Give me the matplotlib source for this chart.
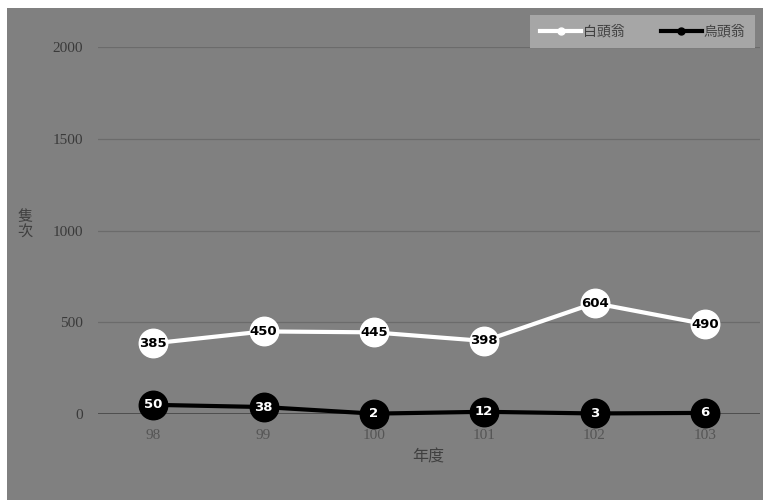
import matplotlib
matplotlib.use("Agg")
import matplotlib.pyplot as plt
from matplotlib.lines import Line2D

plt.rcParams['font.family'] = ['Noto Sans CJK TC', 'DejaVu Sans']

years = ["98", "99", "100", "101", "102", "103"]
white_vals = [385, 450, 445, 398, 604, 490]
black_vals = [50, 38, 2, 12, 3, 6]
yticks = [0, 500, 1000, 1500, 2000]

W, H = 763, 500
fig = plt.figure(figsize=(W/100, H/100), dpi=100, facecolor="white")

# gray chart panel behind everything
bg = fig.add_axes([7/W, 0, 1 - 7/W, 1 - 8/H], zorder=-1)
bg.set_facecolor("#808080")
bg.set_xticks([])
bg.set_yticks([])
for s in bg.spines.values():
    s.set_visible(False)

ax = fig.add_axes([98/W, 1 - 414/H, (760 - 98)/W, (414 - 47)/H])
ax.set_facecolor("none")
x = list(range(len(years)))
ax.set_xlim(-0.5, len(years) - 0.5)
ax.set_ylim(0, 2000)

for v in yticks[1:]:
    ax.axhline(v, color="#6b6b6b", lw=0.9, zorder=1)
ax.axhline(0, color="#404040", lw=1.8, zorder=1)

ax.plot(x, white_vals, color="white", lw=3, marker="o", ms=20.5, mfc="white", mec="white",
        zorder=3, clip_on=False)
ax.plot(x, black_vals, color="black", lw=3, marker="o", ms=20.5, mfc="black", mec="black",
        zorder=4, clip_on=False)

for xi, v in zip(x, white_vals):
    ax.text(xi, v, str(v), ha="center", va="center", color="black", fontsize=9.5,
            fontweight="bold", family="DejaVu Sans", zorder=5)
for xi, v in zip(x, black_vals):
    ax.text(xi, v, str(v), ha="center", va="center", color="white", fontsize=9.5,
            fontweight="bold", family="DejaVu Sans", zorder=5)

for s in ax.spines.values():
    s.set_visible(False)
ax.set_xticks(x)
ax.set_xticklabels(years, family="Liberation Serif", fontsize=11, color="#555555")
ax.set_yticks(yticks)
ax.set_yticklabels([str(t) for t in yticks], family="Liberation Serif", fontsize=11, color="#3a3a3a")
ax.tick_params(axis="y", length=0, pad=11)
ax.tick_params(axis="x", length=0, pad=11)

fig.text(428/W, 1 - 457/H, "年度", ha="center", va="center", fontsize=11.5, color="#404040")
fig.text(25/W, 1 - 224/H, "隻\n次", ha="center", va="center", fontsize=11, color="#404040",
         linespacing=0.9)

handles = [Line2D([], [], color="white", lw=3, marker="o", ms=5),
           Line2D([], [], color="black", lw=3, marker="o", ms=5)]
leg = fig.legend(handles, ["白頭翁", "烏頭翁"], loc="upper right",
                 bbox_to_anchor=(755/W, 1 - 15/H), ncol=2, frameon=True, fancybox=False,
                 handlelength=3.0, handletextpad=0.1, columnspacing=2.6, fontsize=10,
                 borderpad=0.7, borderaxespad=0, labelcolor="#404040")
leg.get_frame().set_facecolor("#a6a6a6")
leg.get_frame().set_edgecolor("none")
leg.get_frame().set_alpha(1)

fig.savefig("out.png", dpi=100, facecolor="white")
